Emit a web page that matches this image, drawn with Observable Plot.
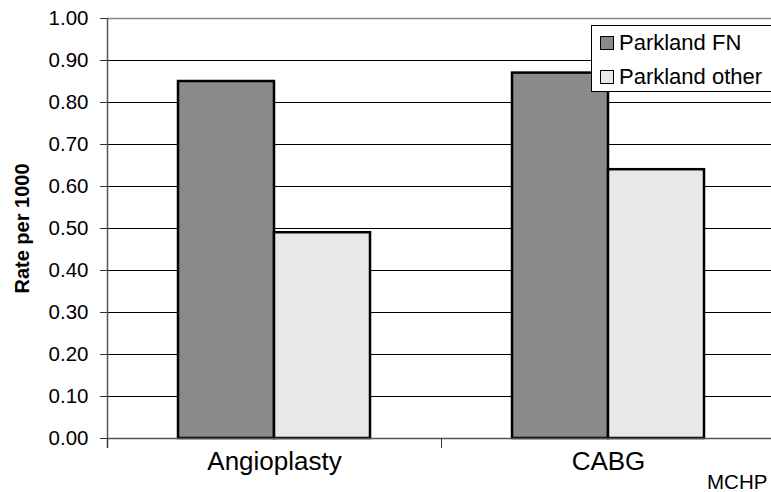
<!DOCTYPE html>
<html>
<head>
<meta charset="utf-8">
<script src="https://cdn.jsdelivr.net/npm/d3@7"></script>
<script src="https://cdn.jsdelivr.net/npm/@observablehq/plot@0.6"></script>
<style>
  html, body { margin: 0; padding: 0; background: #fff; }
  #wrap { position: relative; width: 771px; height: 492px; overflow: hidden; font-family: "Liberation Sans", Arial, sans-serif; }
  #legend { position: absolute; left: 591px; top: 25px; width: 185px; height: 67px; border: 1px solid #000; background: #fff; box-sizing: border-box; font-size: 22px; }
  .item { position: absolute; left: 8px; display: flex; align-items: center; line-height: 24px; }
  .sw { width: 12px; height: 12px; border: 1.5px solid #000; margin-right: 5px; }
  #caption { position: absolute; left: 707px; top: 471px; font-size: 20.5px; line-height: 22px; }
</style>
</head>
<body>
<div id="wrap">
  <div id="chart"></div>
  <div id="legend"></div>
  <div id="caption">MCHP</div>
</div>
<script>
const categories = ["Angioplasty", "CABG"];
const seriesNames = ["Parkland FN", "Parkland other"];
const parklandFN = [0.85, 0.87];
const parklandOther = [0.49, 0.64];
const yTicks = [0, 0.1, 0.2, 0.3, 0.4, 0.5, 0.6, 0.7, 0.8, 0.9, 1.0];
const colors = ["#8a8a8a", "#e8e8e8"];

const data = categories.map((c, i) => ({cat: c, fn: parklandFN[i], other: parklandOther[i]}));

const chart = Plot.plot({
  width: 771,
  height: 492,
  marginLeft: 107,
  marginRight: -4,
  marginTop: 18,
  marginBottom: 54,
  style: {fontFamily: "Liberation Sans, Arial, sans-serif", background: "#fff", overflow: "hidden"},
  x: {domain: categories, padding: 0, axis: null},
  y: {domain: [0, 1], axis: null},
  marks: [
    Plot.ruleY(yTicks.filter(d => d > 0 && d < 1), {stroke: "#000", strokeWidth: 1}),
    Plot.ruleY([1], {stroke: "#888", strokeWidth: 1.5}),
    Plot.barY(data, {x: "cat", y: "fn", fill: colors[0], stroke: "#000", strokeWidth: 2.5, insetLeft: 71, insetRight: 167}),
    Plot.barY(data, {x: "cat", y: "other", fill: colors[1], stroke: "#000", strokeWidth: 2.5, insetLeft: 167, insetRight: 71}),
    Plot.ruleY([0], {stroke: "#555", strokeWidth: 1.5}),
    Plot.axisY({ticks: yTicks, tickFormat: d3.format(".2f"), tickSize: 7, tickPadding: 12, fontSize: 20.5, label: null, stroke: "#333"}),
    Plot.ruleX([0], {x: () => categories[0], dx: -167, stroke: "#555", strokeWidth: 1.5, y1: 1, y2: 0, insetBottom: -10}),
    Plot.axisX({tickSize: 10, tickFormat: () => "", dx: -167, stroke: "#333", label: null}),
    Plot.axisX({tickSize: 0, tickPadding: 13, fontSize: 26, label: null}),
    Plot.text(["Rate per 1000"], {frameAnchor: "left", dx: -85, textAnchor: "middle", rotate: -90, fontSize: 20, fontWeight: "bold", text: d => d})
  ]
});
document.getElementById("chart").appendChild(chart);

const legend = document.getElementById("legend");
seriesNames.forEach((name, i) => {
  const it = document.createElement("div");
  it.className = "item";
  it.style.top = (i === 0 ? 5 : 39) + "px";
  it.innerHTML = `<span class="sw" style="background:${colors[i]}"></span><span>${name}</span>`;
  legend.appendChild(it);
});
</script>
</body>
</html>
